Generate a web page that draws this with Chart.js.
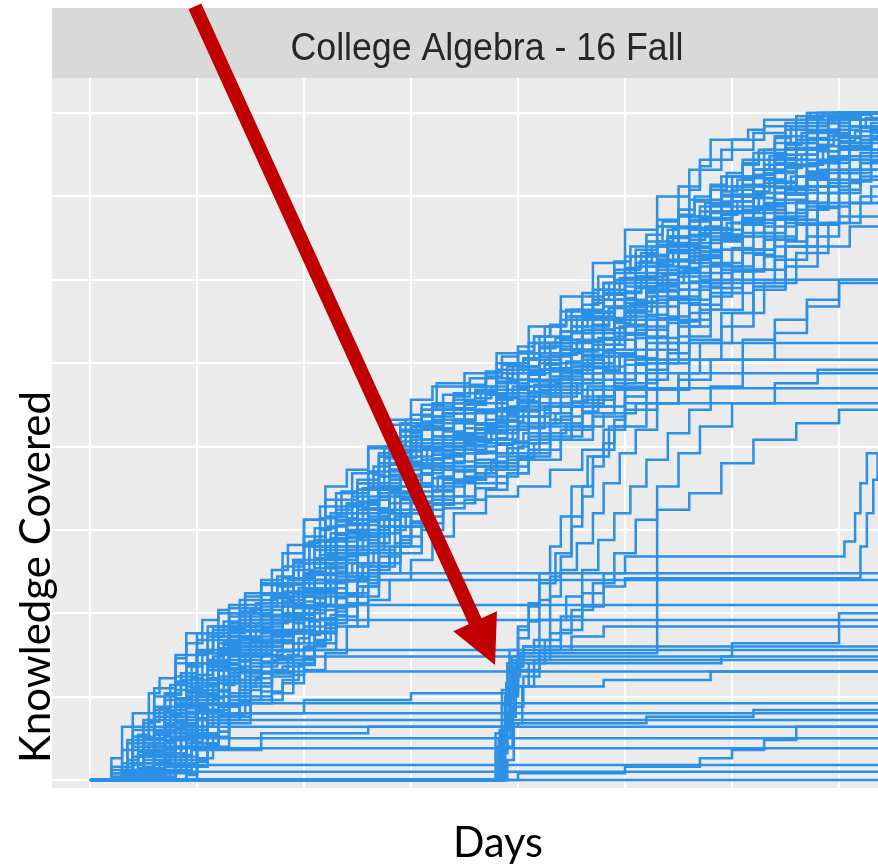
<!DOCTYPE html>
<html>
<head>
<meta charset="utf-8">
<title>College Algebra - 16 Fall</title>
<script src="https://cdn.jsdelivr.net/npm/chart.js@4.4.1/dist/chart.umd.min.js"></script>
<style>
  html, body { margin: 0; padding: 0; background: #fff; }
</style>
</head>
<body>
<canvas id="progressChart" width="878" height="866"></canvas>
<script>
// each trajectory is a flat list: day, knowledge, day, knowledge ...
// (value jumps to "knowledge" on that day, ggplot geom_step style)

const panelTitle = 'College Algebra - 16 Fall';
const xTitle = 'Days';
const yTitle = 'Knowledge Covered';

const dayTicks = [0, 10, 20, 30, 40, 50, 60, 70];
const knowledgeTicks = [0, 50, 100, 150, 200, 250, 300, 350, 400];

// students well ahead of the class
const leaders = [
  [0,0, 2,4, 4,14, 6,30, 8,48, 9,88, 14.5,92, 16,104, 17.5,118, 19,132, 21,140, 23,148, 25,162, 26,174, 27,182, 28,189, 29,198, 30,208, 31,222, 32.4,238, 35.5,241, 38,250, 40.5,252, 41.5,262, 42.5,272, 44,281, 47,290, 48,298, 49,306, 51.4,311, 52.5,320, 54,330, 55,342, 56,354, 57,368, 58,384, 61.5,390, 63,396, 67.3,400, 74,400],
  [0,0, 2,8, 4,30, 6,55, 8,75, 11,92, 14,100, 17,118, 20,140, 23,160, 25,178, 27,194, 29,210, 31,222, 34,232, 37,244, 40,256, 42,266, 45,282, 48,298, 51,318, 53,336, 55,356, 57,372, 60,384, 63,392, 66,398, 70,400, 74,400],
  [0,0, 3,6, 5,22, 7,48, 10,70, 13,84, 16,96, 19,120, 22,140, 25,160, 28,180, 31,200, 33,222, 36,232, 39,240, 42,250, 44,262, 47,276, 50,296, 53,312, 56,330, 59,350, 62,366, 65,382, 68,394, 71,400, 74,400],
  [0,0, 4,4, 6,20, 8,45, 11,66, 13,80, 16,94, 18,110, 21,130, 24,148, 27,172, 30,190, 32,206, 35,220, 38,230, 41,240, 44,258, 47,270, 49,284, 52,300, 55,320, 58,340, 61,356, 64,372, 67,388, 70,396, 72,400, 74,400]
];

// the main band that keeps pace with the course
const onPace = [
  [0,0, 2,4, 4,22, 6,42, 8,62, 10,84, 13,100, 16,112, 18,128, 20,146, 22,168, 25,180, 27,196, 29,214, 32,226, 35,236, 38,246, 41,262, 44,276, 47,294, 50,314, 53,332, 56,348, 59,362, 62,376, 65,390, 68,400, 74,400],
  [0,0, 3,6, 5,24, 7,44, 9,60, 11,78, 13,94, 16,102, 18,112, 20,130, 22,152, 24,164, 26,176, 28,194, 30,212, 33,220, 36,226, 39,240, 42,254, 45,268, 48,284, 51,302, 54,318, 57,336, 60,350, 63,364, 66,378, 69,390, 72,400, 74,400],
  [0,0, 3,2, 5,16, 7,34, 9,50, 11,68, 13,86, 15,92, 18,100, 20,118, 22,136, 24,154, 26,162, 28,180, 30,198, 32,206, 35,214, 38,222, 40,236, 42,246, 45,258, 48,276, 51,296, 53,308, 56,322, 59,340, 62,352, 65,368, 68,380, 71,392, 74,398],
  [0,0, 4,4, 6,18, 8,36, 10,52, 12,70, 14,84, 16,90, 18,98, 20,112, 22,134, 24,150, 26,158, 28,176, 30,194, 32,202, 34,208, 37,214, 39,224, 41,236, 44,250, 47,264, 50,286, 52,298, 55,312, 58,330, 61,342, 64,356, 67,370, 70,382, 74,392],
  [0,0, 4,2, 6,12, 8,28, 10,46, 12,62, 14,78, 17,86, 19,96, 21,112, 23,132, 25,146, 27,156, 29,172, 31,188, 33,198, 36,204, 38,212, 40,222, 43,236, 46,250, 49,268, 52,284, 55,302, 58,318, 61,334, 64,348, 67,360, 70,374, 74,384],
  [0,0, 5,2, 7,14, 9,30, 11,46, 13,64, 15,76, 17,82, 20,92, 22,110, 24,130, 26,142, 28,152, 30,170, 32,186, 34,196, 37,202, 40,212, 42,224, 45,238, 48,254, 51,270, 54,288, 57,304, 60,318, 63,332, 66,346, 69,358, 72,370, 74,374],
  [0,0, 5,4, 8,14, 10,28, 12,44, 14,60, 16,70, 19,78, 21,88, 23,104, 25,122, 27,136, 29,146, 31,162, 33,178, 35,188, 38,194, 41,204, 43,214, 46,228, 49,244, 52,258, 55,276, 58,292, 61,306, 64,320, 67,334, 70,346, 74,356],
  [0,0, 6,2, 8,10, 10,22, 12,36, 14,50, 17,62, 19,70, 21,78, 23,92, 25,110, 27,124, 29,136, 31,150, 33,166, 36,178, 39,184, 41,192, 44,204, 47,218, 50,234, 53,250, 56,264, 59,280, 62,294, 65,308, 68,320, 71,332, 74,340],
  [0,0, 2,2, 4,14, 6,36, 8,54, 10,70, 12,86, 14,96, 17,104, 19,118, 21,138, 23,156, 25,166, 27,182, 29,200, 31,210, 34,216, 36,222, 39,232, 41,244, 43,256, 46,270, 49,288, 52,304, 54,316, 57,328, 60,344, 63,358, 66,372, 69,386, 72,396, 74,400],
  [0,0, 3,0, 6,10, 8,24, 10,42, 12,58, 14,74, 16,84, 19,90, 21,104, 23,122, 25,140, 27,152, 29,166, 31,184, 33,194, 35,200, 38,208, 40,218, 43,232, 46,244, 49,258, 52,276, 55,294, 58,310, 61,326, 64,340, 67,352, 70,366, 74,378],
  [0,0, 3,4, 5,20, 7,40, 9,58, 11,76, 13,90, 15,96, 18,106, 20,124, 22,144, 24,160, 26,170, 28,186, 30,204, 32,214, 35,222, 38,232, 40,246, 43,262, 46,280, 49,300, 52,320, 55,338, 58,356, 61,372, 64,386, 67,396, 70,400, 74,400],
  [0,0, 4,2, 7,16, 9,32, 11,50, 13,66, 15,80, 18,88, 20,100, 22,118, 24,138, 26,148, 28,160, 30,176, 32,190, 35,198, 37,204, 40,214, 42,226, 45,240, 48,256, 51,272, 54,290, 57,300, 74,300],
  [0,0, 6,0, 9,8, 11,20, 13,34, 15,48, 18,58, 20,66, 22,76, 24,92, 26,108, 28,120, 30,132, 32,146, 34,160, 37,170, 40,176, 43,186, 46,198, 49,212, 52,226, 55,240, 58,252, 61,264, 64,276, 67,288, 70,298, 74,306],
  [0,0, 5,2, 7,10, 9,22, 11,38, 13,52, 15,64, 17,72, 19,82, 21,96, 23,112, 25,128, 27,140, 29,152, 31,166, 33,180, 36,188, 39,196, 42,204, 45,212, 48,220, 51,226, 74,226],
  [0,0, 4,2, 6,14, 8,30, 10,46, 12,60, 14,72, 16,80, 18,90, 20,104, 22,120, 24,136, 26,146, 28,160, 30,176, 32,188, 34,196, 37,204, 40,214, 43,224, 46,230, 49,235, 74,235],
  [0,0, 3,2, 5,14, 7,32, 9,50, 11,66, 13,82, 15,90, 17,98, 19,112, 21,130, 23,148, 25,156, 27,170, 29,186, 31,198, 33,204, 36,210, 38,218, 41,230, 44,240, 47,248, 50,252, 74,252],
  [0,0, 5,0, 7,10, 9,26, 11,42, 13,58, 15,70, 17,78, 19,88, 21,102, 23,120, 25,138, 27,148, 29,160, 31,176, 33,188, 36,196, 39,202, 42,212, 45,224, 48,234, 52,244, 74,244],
  [0,0, 2,2, 4,18, 6,38, 8,58, 10,76, 12,92, 15,98, 17,110, 19,126, 21,144, 23,164, 25,174, 27,190, 29,206, 31,218, 33,226, 36,234, 39,248, 42,262, 45,278, 48,292, 51,308, 54,326, 57,344, 60,362, 63,378, 66,392, 69,400, 74,400],
  [0,0, 3,0, 5,10, 7,26, 9,44, 11,60, 13,76, 16,86, 18,96, 20,110, 22,128, 24,146, 26,156, 28,172, 30,190, 33,200, 35,206, 37,212, 39,222, 41,232, 43,242, 46,254, 48,264, 50,278, 53,294, 56,310, 59,326, 62,340, 65,354, 68,366, 71,378, 74,386],
  [0,0, 5,0, 7,8, 9,20, 11,34, 13,50, 15,64, 17,72, 20,80, 22,94, 24,112, 26,128, 28,140, 30,152, 32,168, 34,180, 37,186, 40,194, 43,206, 46,220, 49,236, 52,250, 55,266, 58,282, 61,298, 64,312, 67,326, 70,338, 74,350],
  [0,0, 6,2, 8,12, 10,26, 12,40, 14,54, 16,64, 19,72, 21,82, 23,98, 25,116, 27,130, 29,140, 31,154, 33,170, 35,182, 38,188, 41,198, 44,210, 47,224, 50,238, 53,252, 56,262, 74,262],
  [0,0, 2,6, 4,26, 6,50, 8,70, 10,88, 12,100, 14,108, 16,120, 18,136, 20,156, 22,176, 24,186, 26,200, 28,216, 30,228, 32,236, 35,244, 38,256, 41,272, 44,290, 47,310, 50,330, 53,350, 56,366, 59,378, 62,388, 65,394, 68,400, 74,400]
];

// finer-stepped students packed into the core of the band
const denseCore = [
  [0,0, 3,10, 5,20, 6,28, 8,44, 9,53, 11,70, 12,79, 14,92, 16,99, 18,107, 19,113, 21,133, 22,143, 24,156, 26,168, 27,176, 29,196, 30,202, 32,210, 34,215, 36,221, 38,229, 39,234, 41,246, 43,254, 44,258, 46,268, 48,281, 49,288, 51,300, 53,312, 54,317, 56,327, 58,337, 60,347, 62,356, 64,365, 66,375, 68,384, 70,392, 72,399, 73,400, 74,400],
  [0,0, 4.5,2, 5.5,4, 7,16, 8.5,28, 10,41, 11.5,54, 13,67, 14.5,76, 16.5,83, 18,88, 19.5,97, 21,112, 22.5,127, 24,138, 25.5,144, 27,156, 28.5,170, 30,183, 32,193, 34,198, 36,203, 37.5,208, 39,215, 40.5,224, 42,232, 43.5,238, 45,244, 46.5,252, 48,261, 49.5,272, 51,281, 52.5,290, 54,298, 55.5,306, 57,313, 59,323, 61,333, 63,342, 65,351, 67,361, 69,370, 71,378, 73,384, 74,384],
  [0,0, 4,20, 5,25, 7,38, 8,46, 10,63, 11,71, 13,89, 14,98, 15,102, 17,109, 19,117, 20,123, 22,143, 23,153, 25,166, 27,178, 28,186, 30,206, 31,212, 33,220, 35,225, 37,231, 39,239, 40,244, 42,256, 44,264, 45,268, 47,278, 49,291, 50,298, 52,310, 54,322, 56,332, 57,337, 59,347, 61,357, 63,366, 65,375, 67,385, 69,394, 71,400, 74,400],
  [0,0, 4,9, 5,17, 7,33, 8,42, 9,50, 11,68, 12,77, 14,85, 16,91, 17,96, 19,112, 20,122, 21,132, 23,145, 24,149, 26,165, 27,175, 29,191, 31,199, 32,202, 34,207, 36,213, 38,223, 40,235, 41,239, 43,247, 45,257, 46,263, 48,277, 50,289, 51,295, 53,306, 55,316, 57,326, 58,331, 60,341, 62,349, 64,359, 66,369, 68,377, 70,385, 72,391, 74,391],
  [0,0, 7,12, 8,20, 10,37, 11,46, 13,64, 14,68, 16,75, 18,83, 19,89, 21,109, 22,119, 24,132, 25,136, 27,152, 28,162, 30,178, 32,186, 34,191, 36,197, 38,205, 39,210, 41,222, 43,230, 44,234, 46,244, 48,257, 49,264, 51,276, 53,288, 55,298, 57,308, 59,318, 61,328, 63,336, 65,346, 67,356, 69,364, 71,372, 73,378, 74,378],
  [0,0, 4,32, 5.5,40, 7,52, 8.5,64, 10,77, 11.5,90, 13,103, 14.5,112, 16,117, 17.5,122, 19,130, 20.5,143, 22,158, 23.5,173, 25,178, 26.5,188, 28,201, 29.5,216, 31,225, 33,231, 35,236, 37,242, 38.5,249, 40,257, 41.5,266, 43,272, 44.5,278, 46,285, 47.5,294, 49,304, 50.5,314, 52,323, 53.5,332, 55,339, 56.5,347, 58,354, 59.5,362, 61,369, 62.5,376, 64,382, 65.5,390, 67,397, 68.5,400, 74,400],
  [0,0, 9,10, 10,19, 12,36, 13,45, 15,58, 17,65, 18,68, 20,79, 21,89, 23,109, 24,119, 26,126, 27,134, 29,152, 30,162, 32,174, 34,179, 36,184, 38,190, 40,200, 41,206, 43,216, 45,224, 47,234, 48,240, 50,254, 52,266, 54,278, 56,288, 58,298, 60,308, 62,318, 64,326, 66,336, 68,346, 70,354, 72,362, 74,362],
  [0,0, 3.5,10, 4.5,15, 6,27, 7.5,39, 8.5,48, 10,60, 11.5,74, 12.5,83, 14,89, 15.5,94, 17,99, 18.5,108, 20,123, 21,133, 22.5,148, 24,153, 25.5,163, 27,176, 28,186, 29.5,197, 31,204, 33,209, 35,214, 37,221, 38.5,229, 40,238, 41,243, 42.5,249, 44,255, 45.5,263, 47,272, 48.5,283, 50,292, 51.5,301, 53,309, 54.5,317, 56,324, 57.5,332, 59,339, 60.5,347, 62,353, 63.5,360, 65,367, 66.5,375, 68,381, 69.5,387, 71,392, 72.5,397, 74,397],
  [0,0, 3.5,24, 5,36, 6,44, 7.5,57, 9,69, 10,78, 11.5,92, 13,98, 14.5,103, 16,108, 17.5,117, 19,132, 20,142, 21.5,157, 23,162, 24.5,172, 26,185, 27.5,200, 29,209, 31,215, 33,220, 35,226, 36.5,233, 38,241, 39.5,250, 41,256, 42.5,262, 44,269, 45.5,278, 47,288, 48.5,298, 50,307, 51.5,316, 53,323, 54.5,331, 56,338, 57.5,346, 59,353, 60.5,360, 62,366, 63.5,374, 65,381, 66.5,388, 68,394, 69.5,400, 74,400],
  [0,0, 10,13, 11.5,26, 13,39, 14.5,48, 16,53, 18,60, 19.5,69, 21,84, 22.5,99, 24,110, 25.5,116, 27,128, 28.5,142, 30,155, 32,165, 34,170, 36,175, 38,182, 40,193, 41.5,202, 43,208, 44.5,214, 46,221, 47.5,230, 49,240, 51,253, 53,265, 55,275, 57,285, 59,295, 61,305, 63,314, 65,323, 67,333, 70,346, 73,356, 74,356],
  [0,0, 5,24, 6,29, 8,42, 9,50, 10,58, 12,75, 13,84, 15,102, 16,106, 18,113, 20,121, 21,127, 23,147, 24,157, 25,167, 27,174, 29,190, 30,200, 32,216, 33,222, 35,227, 37,232, 39,238, 41,248, 42,254, 44,264, 46,272, 47,276, 49,288, 51,302, 52,308, 54,320, 56,331, 58,341, 60,351, 62,361, 64,370, 66,379, 68,389, 70,398, 72,400, 74,400],
  [0,0, 5,8, 6,16, 7,24, 9,41, 10,50, 12,68, 13,72, 14,76, 16,82, 17,87, 19,103, 20,113, 22,133, 23,136, 25,148, 26,156, 28,176, 29,182, 31,190, 33,195, 35,201, 37,209, 39,220, 40,226, 42,234, 44,242, 45,248, 47,261, 48,268, 50,280, 52,292, 53,297, 55,307, 57,317, 59,327, 61,336, 63,345, 65,355, 67,364, 69,372, 71,379, 73,385, 74,385],
  [0,0, 4.5,7, 6,15, 7.5,25, 8.5,33, 10,46, 11.5,58, 12.5,67, 14,80, 15.5,89, 17,94, 18.5,99, 20,107, 21,115, 22.5,130, 24,145, 25.5,153, 27,161, 28.5,173, 30,188, 31.5,199, 33,206, 35,211, 37,216, 38.5,221, 40,228, 41.5,237, 43,245, 44.5,251, 46,257, 47.5,265, 49,274, 50.5,285, 52,294, 53.5,303, 55,311, 56.5,319, 58,326, 59.5,334, 61,341, 62.5,349, 64,355, 65.5,362, 67,369, 68.5,377, 70,383, 71.5,389, 73,394, 74,394],
  [0,0, 6.5,6, 8,19, 9,27, 10.5,40, 12,53, 13,60, 14.5,66, 16,71, 17.5,77, 19,88, 20.5,103, 21.5,113, 23,124, 24.5,130, 26,142, 27.5,156, 29,169, 30.5,178, 32,181, 34,186, 36,192, 38,201, 39.5,210, 41,218, 42.5,224, 44,230, 45.5,238, 47,247, 48.5,258, 50,267, 52,279, 54,289, 56,299, 58,309, 60,319, 62,328, 64,337, 66,347, 68,356, 70,364, 72,370, 74,370],
  [0,0, 5,2, 6,7, 7,12, 9,28, 10,36, 11,45, 13,62, 14,71, 15,80, 17,88, 19,94, 20,99, 21,105, 23,125, 24,135, 26,148, 27,152, 29,168, 30,178, 31,188, 33,200, 35,205, 37,210, 39,216, 40,221, 42,232, 44,242, 45,246, 47,254, 49,266, 50,273, 52,286, 54,298, 55,304, 57,314, 59,324, 61,334, 63,344, 65,352, 67,362, 69,372, 71,380, 73,388, 74,388],
  [0,0, 3,32, 4,40, 5.5,52, 6.5,61, 8,73, 9,82, 10.5,96, 12,102, 13,105, 14.5,110, 16,118, 17,126, 18.5,141, 20,156, 21.5,164, 23,172, 24.5,184, 26,199, 28,213, 30,219, 32,224, 34,230, 35.5,237, 37,245, 38.5,254, 40,260, 41.5,266, 43,273, 44.5,282, 46,292, 47.5,302, 49,311, 50.5,320, 52,327, 53.5,335, 55,342, 56.5,350, 58,357, 59.5,364, 61,370, 62.5,378, 64,385, 65.5,392, 67,400, 74,400],
  [0,0, 4.5,27, 5.5,32, 7,41, 8,49, 9.5,61, 10.5,70, 12,82, 13,91, 14.5,105, 16,111, 17.5,116, 19,121, 20.5,130, 21.5,140, 23,155, 24.5,170, 26,175, 27.5,185, 29,198, 30.5,213, 32,222, 34,228, 36,233, 38,239, 40,248, 42,260, 44,269, 46,277, 48,288, 50,301, 52,314, 54,326, 56,336, 58,346, 60,356, 62,366, 64,375, 66,384, 68,394, 70,400, 74,400],
  [0,0, 4,2, 5,7, 6,15, 7,23, 8,31, 9,40, 10,48, 11,57, 12,66, 13,75, 15,83, 17,89, 19,100, 20,110, 21,120, 22,130, 23,140, 25,147, 26,155, 27,163, 28,173, 29,183, 30,189, 32,197, 34,202, 36,208, 38,216, 39,221, 40,227, 41,233, 42,237, 44,245, 46,255, 48,268, 49,275, 50,281, 51,287, 52,293, 54,304, 56,314, 58,324, 60,334, 62,343, 64,352, 66,362, 68,371, 70,379, 72,386, 74,386],
  [0,0, 8,6, 9.5,18, 10.5,27, 12,39, 13,48, 14.5,62, 16,68, 17.5,73, 19,78, 20.5,87, 21.5,97, 23,112, 24,122, 25.5,130, 27,138, 28.5,150, 29.5,160, 31,173, 32.5,182, 34,185, 36,190, 38,196, 39.5,203, 41,211, 42.5,220, 44,226, 46,234, 48,245, 49.5,255, 51,265, 53,277, 55,288, 57,298, 59,308, 61,318, 63,328, 65,336, 67,346, 69,356, 71,364, 73,371, 74,371],
  [0,0, 3.5,12, 4.5,17, 5.5,22, 6.5,30, 7.5,38, 8.5,46, 9.5,55, 10.5,63, 11.5,72, 12.5,81, 14,92, 16,99, 18,106, 19.5,115, 20.5,125, 21.5,135, 22.5,145, 24,156, 26,166, 27,174, 28,183, 29,193, 30.5,204, 32,211, 34,216, 36,221, 38,228, 39.5,236, 41,245, 42.5,252, 44,258, 45.5,264, 47,273, 48.5,283, 50,293, 51.5,302, 53,311, 55,321, 57,331, 59,341, 61,351, 63,360, 65,369, 67,379, 69,388, 71,396, 73,400, 74,400],
  [0,0, 4,2, 5,10, 6,18, 7,26, 8,35, 9,43, 10,52, 11,61, 12,70, 13,74, 14,78, 16,84, 18,95, 19,105, 20,115, 21,125, 22,135, 23,138, 25,150, 27,168, 28,178, 29,184, 30,190, 32,195, 35,203, 37,211, 38,216, 39,222, 40,228, 41,232, 43,240, 45,250, 47,263, 48,270, 49,276, 50,282, 52,294, 54,304, 56,314, 58,324, 60,334, 62,342, 64,352, 66,362, 68,370, 70,378, 72,384, 74,384],
  [0,0, 7.5,6, 8.5,15, 9.5,23, 10.5,32, 11.5,41, 12.5,50, 14,56, 15.5,61, 17,66, 18.5,75, 19.5,85, 20.5,95, 21.5,105, 22.5,115, 24,120, 25.5,130, 26.5,138, 27.5,148, 28.5,158, 30,167, 32,173, 34,178, 36,184, 37.5,191, 39,199, 40.5,208, 42,214, 43.5,220, 45,227, 46.5,236, 48,246, 49.5,256, 51,265, 53,276, 55,286, 57,296, 59,306, 61,316, 63,324, 65,334, 67,344, 69,352, 71,359, 73,366, 74,366],
  [0,0, 5.5,6, 6.5,11, 7.5,16, 8.5,24, 9.5,32, 10.5,40, 11.5,49, 12.5,57, 13.5,66, 14.5,75, 15.5,84, 17,90, 19,97, 21,106, 22,114, 23,124, 24,134, 25,144, 26,150, 28,160, 29,168, 30,177, 31,187, 32,195, 34,205, 36,210, 38,215, 40,222, 41,227, 42,233, 43,239, 44,244, 46,252, 48,261, 50,273, 51,280, 52,287, 53,293, 55,305, 57,315, 59,325, 61,335, 63,345, 65,354, 67,363, 69,373, 71,382, 73,390, 74,390],
  [0,0, 9,3, 10,11, 11,20, 12,29, 13,38, 15,46, 17,52, 19,63, 20,73, 21,83, 22,93, 23,103, 24,106, 26,118, 27,126, 28,136, 29,146, 30,152, 31,158, 33,163, 35,168, 37,174, 39,184, 41,196, 43,204, 45,212, 47,224, 49,238, 51,250, 53,262, 55,272, 57,282, 59,292, 62,306, 65,320, 68,334, 71,346, 74,346],
  [0,0, 3.5,22, 4.5,27, 5.5,35, 6.5,43, 7.5,51, 8.5,60, 9.5,68, 10.5,77, 11.5,86, 12.5,95, 14,101, 15.5,106, 17,111, 18.5,120, 19.5,130, 20.5,140, 21.5,150, 22.5,160, 24,165, 25.5,175, 26.5,183, 27.5,193, 28.5,203, 30,212, 32,218, 34,223, 36,229, 37.5,236, 39,244, 40.5,253, 42,259, 43.5,265, 45,272, 46.5,281, 48,291, 49.5,301, 51,310, 53,321, 55,331, 57,341, 59,351, 61,361, 63,369, 65,379, 67,389, 69,397, 70.5,400, 74,400],
  [0,0, 5,5, 6,10, 7,18, 8,26, 9,34, 10,43, 11,51, 12,60, 13,69, 14,78, 15,82, 17,89, 19,97, 20,103, 21,113, 22,123, 23,133, 24,143, 25,146, 27,158, 28,166, 29,176, 30,186, 31,192, 33,200, 35,205, 37,211, 38,214, 39,219, 40,224, 41,230, 42,236, 43,240, 45,248, 47,258, 49,271, 50,278, 51,284, 52,290, 53,296, 55,307, 57,317, 59,327, 61,337, 63,346, 65,355, 67,365, 69,374, 71,382, 73,389, 74,389],
  [0,0, 9,4, 10,12, 11,21, 12,29, 13,38, 14,47, 15,56, 17,64, 19,70, 21,81, 22,91, 23,101, 24,111, 25,121, 26,124, 27,128, 28,136, 29,144, 30,154, 31,164, 32,170, 33,176, 35,181, 37,186, 39,192, 41,202, 42,208, 43,214, 44,218, 46,226, 48,236, 50,249, 52,262, 54,274, 56,285, 58,295, 60,305, 62,315, 64,324, 66,333, 68,343, 70,352, 72,360, 74,360],
  [0,0, 2,13, 3,18, 4,26, 5,34, 6,42, 7,51, 8,59, 9,68, 10,77, 11,86, 12,90, 13,94, 15,100, 17,111, 18,121, 19,131, 20,141, 21,151, 23,158, 24,166, 25,174, 26,184, 27,194, 28,200, 29,206, 31,211, 33,216, 35,222, 36,227, 37,232, 38,238, 39,244, 40,248, 41,252, 43,260, 45,272, 46,279, 47,286, 48,292, 49,298, 50,304, 52,315, 54,325, 56,335, 58,345, 60,354, 62,363, 64,373, 66,382, 68,390, 70,397, 72,400, 74,400]
];

// students who stopped early and stay flat to the end
const stoppedEarly = [
  [0,0, 74,0],
  [0,0, 3,5, 74,5],
  [0,0, 4,3, 6,9, 74,9],
  [0,0, 3,2, 5,12, 7,19, 74,19],
  [0,0, 4,4, 6,14, 8,25, 74,25],
  [0,0, 5,4, 7,16, 9,26, 11,32, 74,32],
  [0,0, 4,6, 6,18, 8,30, 10,36, 74,36],
  [0,0, 3,4, 5,18, 7,30, 9,40, 74,40],
  [0,0, 4,2, 6,14, 8,30, 10,42, 12,46, 74,46],
  [0,0, 4,3, 6,16, 8,32, 10,48, 12,60, 14,65, 74,65],
  [0,0, 3,2, 6,20, 8,38, 10,52, 12,66, 14,74, 74,74],
  [0,0, 4,4, 6,22, 8,40, 10,56, 12,70, 13,78, 74,78],
  [0,0, 3,3, 5,16, 7,34, 9,52, 11,68, 13,82, 15,90, 17,96, 74,96],
  [0,0, 4,2, 6,18, 8,36, 10,54, 12,70, 14,84, 16,90, 18,98, 19,105, 74,105],
  [0,0, 3,4, 5,20, 7,38, 9,56, 11,72, 13,86, 16,94, 18,104, 20,112, 21,120, 74,120],
  [0,0, 4,4, 6,18, 8,34, 10,50, 12,66, 14,80, 16,88, 18,98, 20,114, 22,124, 74,124]
];

// very slow progress over the whole term
const slowMovers = [
  [0,0, 5,5, 8,20, 12,40, 20,48, 30,52, 40,56, 48,60, 58,65, 74,65],
  [0,0, 6,4, 10,18, 16,28, 26,32, 40,34, 52,38, 62,42, 74,42],
  [0,0, 30,0, 40,4, 50,8, 57,13, 60,18, 63,24, 66,32, 74,32],
  [0,0, 38,0, 38.6,30, 39.2,55, 40,70, 59,74, 60,82, 69,82, 70,100, 74,100]
];

// the group that only started around day 38
const lateStarters = [
  [0,0, 37.5,0, 38,20, 38.5,45, 39,70, 40,85, 41,95, 42,108, 43,122, 44,134, 45,152, 46,170, 47,188, 48,202, 49,216, 50,226, 52,240, 54,256, 56,272, 58,290, 60,306, 63,324, 66,342, 69,360, 72,376, 74,384],
  [0,0, 37.6,0, 38.2,25, 38.8,50, 39.5,72, 40.5,80, 42,96, 43,110, 44,126, 45.5,142, 47,160, 48,178, 49.5,196, 51,210, 53,226, 55,244, 57,262, 60,280, 63,298, 66,316, 69,334, 72,350, 74,356],
  [0,0, 38,0, 38.4,18, 39,40, 39.6,62, 40.2,76, 41.5,84, 43,96, 44.5,110, 46,126, 47.5,144, 49,160, 50.5,176, 52,192, 54,208, 56,222, 58,236, 61,252, 64,268, 67,284, 70,300, 74,312],
  [0,0, 37.8,0, 38.3,30, 38.9,58, 39.4,74, 40,90, 41,104, 42,118, 43.5,136, 45,158, 46,176, 47,194, 48.5,212, 50,230, 52,246, 54,262, 56,280, 58,298, 61,318, 64,338, 67,356, 70,372, 74,386],
  [0,0, 37.7,0, 38.3,22, 38.9,48, 39.6,68, 40.5,80, 74,80],
  [0,0, 38.1,0, 38.6,30, 39.2,55, 39.8,72, 74,72],
  [0,0, 38.2,0, 38.7,26, 39.3,50, 40,66, 42,78, 45,86, 48,92, 74,92],
  [0,0, 37.9,0, 38.4,16, 39,38, 39.8,56, 41,70, 42.5,84, 44,98, 46,112, 48,124, 50,134, 70,134, 70.5,143, 71.5,160, 72,178, 72.6,196, 74,196],
  [0,0, 38.3,0, 38.8,20, 39.5,44, 40.5,62, 42,78, 44,90, 46,104, 48,116, 50,121, 71.2,121, 72,140, 72.6,160, 73.2,180, 73.6,196, 74,205],
  [0,0, 38,0, 38.6,30, 39.3,60, 40,76, 52.8,76, 53,162, 56,172, 59,190, 62,204, 66,214, 70,222, 74,232],
  [0,0, 37.4,0, 37.9,28, 38.5,54, 39.2,78, 40,92, 41,106, 42,124, 43,140, 44,158, 45,176, 46.5,194, 48,210, 50,222, 53,234, 56,252, 59,272, 62,296, 65,320, 68,344, 71,366, 74,380],
  [0,0, 38.5,0, 39,12, 39.6,34, 40.4,56, 41.5,72, 43,88, 45,102, 47,118, 49,136, 51,156, 53,176, 55,196, 57,212, 60,226, 64,238, 68,246, 74,252]
];

// callout arrow, in data units (tail sits above the panel)
const arrowFrom = { day: 9.8, knowledge: 464 };
const arrowTo = { day: 37.85, knowledge: 69 };

const toPoints = (flat) => {
  const pts = [];
  for (let i = 0; i < flat.length; i += 2) {
    pts.push({ x: flat[i], y: flat[i + 1] });
  }
  return pts;
};

const lineColor = '#2b90e6';
const allStudents = [...stoppedEarly, ...slowMovers, ...onPace, ...denseCore, ...leaders, ...lateStarters];
const datasets = allStudents.map((traj) => ({
  data: toPoints(traj),
  borderColor: lineColor,
  borderWidth: 2.5,
  pointRadius: 0,
  stepped: 'before',
  fill: false
}));

const panelDecor = {
  id: 'panelDecor',
  beforeDraw(chart) {
    const { ctx, chartArea: a } = chart;
    ctx.save();
    ctx.fillStyle = '#d9d9d9';
    ctx.fillRect(a.left, 8, a.right - a.left, a.top - 8);
    ctx.fillStyle = '#ebebeb';
    ctx.fillRect(a.left, a.top, a.right - a.left, a.bottom - a.top);
    ctx.restore();
  },
  afterDraw(chart) {
    const { ctx } = chart;
    const xs = chart.scales.x;
    const ys = chart.scales.y;
    ctx.save();

    // facet strip label
    ctx.fillStyle = '#262626';
    ctx.font = '38px "Liberation Sans", Arial, sans-serif';
    ctx.textAlign = 'center';
    ctx.textBaseline = 'alphabetic';
    ctx.fillText(panelTitle, 487, 60, 393);

    // axis titles
    ctx.fillStyle = '#000';
    ctx.font = '42px Lato, "Open Sans", sans-serif';
    ctx.fillText(xTitle, 498, 857, 90);
    ctx.save();
    ctx.translate(50, 577);
    ctx.rotate(-Math.PI / 2);
    ctx.fillText(yTitle, 0, 0, 385);
    ctx.restore();

    // red callout arrow
    const x0 = xs.getPixelForValue(arrowFrom.day);
    const y0 = ys.getPixelForValue(arrowFrom.knowledge);
    const x1 = xs.getPixelForValue(arrowTo.day);
    const y1 = ys.getPixelForValue(arrowTo.knowledge);
    const len = Math.hypot(x1 - x0, y1 - y0);
    const ux = (x1 - x0) / len, uy = (y1 - y0) / len;
    const headLen = 48, headHalf = 24, shaftHalf = 7;
    const bx = x1 - ux * headLen, by = y1 - uy * headLen;
    ctx.fillStyle = '#c00000';
    ctx.beginPath();
    ctx.moveTo(x0 + uy * shaftHalf, y0 - ux * shaftHalf);
    ctx.lineTo(bx + uy * shaftHalf, by - ux * shaftHalf);
    ctx.lineTo(bx + uy * headHalf, by - ux * headHalf);
    ctx.lineTo(x1, y1);
    ctx.lineTo(bx - uy * headHalf, by + ux * headHalf);
    ctx.lineTo(bx - uy * shaftHalf, by + ux * shaftHalf);
    ctx.lineTo(x0 - uy * shaftHalf, y0 + ux * shaftHalf);
    ctx.closePath();
    ctx.fill();
    ctx.restore();
  }
};

new Chart(document.getElementById('progressChart'), {
  type: 'line',
  data: { datasets },
  options: {
    responsive: false,
    animation: false,
    events: [],
    layout: { padding: { left: 52, top: 78, right: 0, bottom: 78 } },
    plugins: {
      legend: { display: false },
      tooltip: { enabled: false },
      title: { display: false }
    },
    scales: {
      x: {
        type: 'linear',
        min: -3.55,
        max: 73.64,
        afterBuildTicks: (s) => { s.ticks = dayTicks.map((v) => ({ value: v })); },
        ticks: { display: false },
        grid: { color: '#ffffff', lineWidth: 2, drawTicks: false },
        border: { display: false }
      },
      y: {
        type: 'linear',
        min: -4.8,
        max: 421,
        afterBuildTicks: (s) => { s.ticks = knowledgeTicks.map((v) => ({ value: v })); },
        ticks: { display: false },
        grid: { color: '#ffffff', lineWidth: 2, drawTicks: false },
        border: { display: false }
      }
    }
  },
  plugins: [panelDecor]
});
</script>
</body>
</html>
